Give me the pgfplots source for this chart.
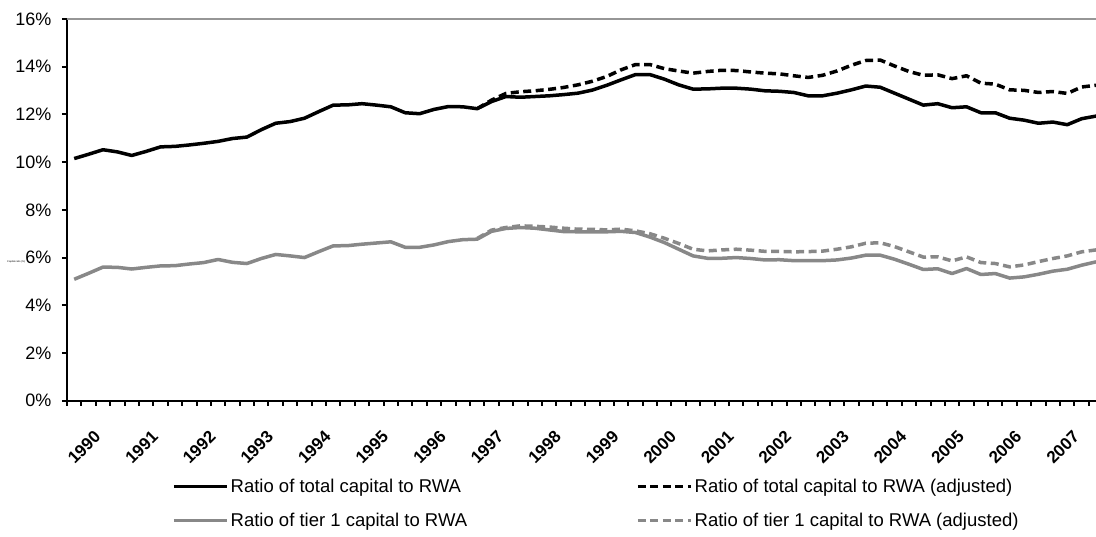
\documentclass[border=0pt]{standalone}
\usepackage{fontspec}
\setmainfont{Liberation Sans}
\usepackage{pgfplots}
\usepackage{pgfplotstable}
\pgfplotsset{compat=1.18}
\definecolor{serieGrey}{RGB}{136,136,136}
\definecolor{topGrey}{RGB}{150,150,150}

\pgfplotstableread{
i v
0 10.15
1 10.33
2 10.52
3 10.43
4 10.28
5 10.45
6 10.64
7 10.66
8 10.72
9 10.79
10 10.87
11 10.99
12 11.05
13 11.36
14 11.63
15 11.70
16 11.84
17 12.12
18 12.39
19 12.40
20 12.45
21 12.39
22 12.32
23 12.07
24 12.03
25 12.21
26 12.33
27 12.32
28 12.24
29 12.54
30 12.75
31 12.72
32 12.75
33 12.78
34 12.83
35 12.89
36 13.02
37 13.22
38 13.45
39 13.67
40 13.67
41 13.48
42 13.24
43 13.06
44 13.07
45 13.10
46 13.10
47 13.06
48 12.99
49 12.97
50 12.92
51 12.78
52 12.78
53 12.89
54 13.03
55 13.19
56 13.14
57 12.89
58 12.64
59 12.39
60 12.45
61 12.28
62 12.32
63 12.07
64 12.07
65 11.84
66 11.76
67 11.63
68 11.68
69 11.57
70 11.82
71 11.93
}\totalcap

\pgfplotstableread{
i v
28 12.24
29 12.60
30 12.88
31 12.95
32 12.99
33 13.05
34 13.13
35 13.24
36 13.39
37 13.59
38 13.87
39 14.09
40 14.09
41 13.92
42 13.82
43 13.73
44 13.80
45 13.85
46 13.84
47 13.78
48 13.73
49 13.70
50 13.62
51 13.55
52 13.64
53 13.82
54 14.06
55 14.26
56 14.28
57 14.03
58 13.80
59 13.64
60 13.66
61 13.50
62 13.62
63 13.31
64 13.27
65 13.03
66 13.01
67 12.92
68 12.96
69 12.88
70 13.15
71 13.22
}\totaladj

\pgfplotstableread{
i v
0 5.09
1 5.34
2 5.60
3 5.59
4 5.52
5 5.59
6 5.65
7 5.66
8 5.73
9 5.79
10 5.92
11 5.80
12 5.75
13 5.96
14 6.13
15 6.07
16 6.00
17 6.25
18 6.49
19 6.50
20 6.56
21 6.61
22 6.66
23 6.43
24 6.43
25 6.53
26 6.67
27 6.75
28 6.77
29 7.10
30 7.22
31 7.26
32 7.23
33 7.16
34 7.09
35 7.08
36 7.08
37 7.08
38 7.10
39 7.05
40 6.86
41 6.63
42 6.35
43 6.07
44 5.97
45 5.97
46 6.00
47 5.96
48 5.90
49 5.91
50 5.87
51 5.87
52 5.87
53 5.90
54 5.98
55 6.10
56 6.10
57 5.93
58 5.72
59 5.50
60 5.53
61 5.33
62 5.54
63 5.29
64 5.33
65 5.14
66 5.19
67 5.30
68 5.43
69 5.51
70 5.68
71 5.82
}\tierone

\pgfplotstableread{
i v
28 6.80
29 7.15
30 7.26
31 7.33
32 7.31
33 7.28
34 7.23
35 7.19
36 7.18
37 7.16
38 7.19
39 7.12
40 7.00
41 6.81
42 6.59
43 6.35
44 6.28
45 6.32
46 6.35
47 6.31
48 6.26
49 6.26
50 6.24
51 6.25
52 6.27
53 6.35
54 6.45
55 6.60
56 6.62
57 6.46
58 6.24
59 6.02
60 6.03
61 5.86
62 6.03
63 5.79
64 5.75
65 5.61
66 5.69
67 5.83
68 5.96
69 6.07
70 6.24
71 6.32
}\tieroneadj

\begin{document}
\begin{tikzpicture}[x=1pt,y=1pt]
\path[use as bounding box] (0,0) rectangle (1096,536);
\node[font=\fontsize{2.5}{3}\selectfont, anchor=west, inner sep=0pt] at (7,274) {Capital ratio (\%)};
\begin{axis}[
  at={(67pt,135.3pt)}, anchor=south west,
  scale only axis, width=1029pt, height=381.7pt,
  xmin=-0.5, xmax=71, ymin=0, ymax=16,
  axis x line*=bottom, axis y line*=left,
  axis line style={line width=2pt, black, -},
  ytick={0,2,...,16},
  yticklabel={\pgfmathprintnumber{\tick}\%},
  yticklabel style={font=\fontsize{18}{21}\selectfont, xshift=-7pt},
  /pgf/number format/assume math mode=true,
  tick align=outside,
  major tick length=5pt,
  tick style={line width=2pt, black},
  xtick={-0.5,0.5,...,70.6},
  xticklabels={},
  extra x ticks={0,4,...,68},
  extra x tick labels={1990,1991,1992,1993,1994,1995,1996,1997,1998,1999,2000,2001,2002,2003,2004,2005,2006,2007},
  extra x tick style={major tick length=0pt, tick label style={font=\bfseries\fontsize{17}{20}\selectfont, xshift=19pt, yshift=-24pt, rotate=45, anchor=north east}},
  legend columns=2,
  legend cell align=left,
  legend image code/.code={\draw[#1] (0pt,0pt) -- (53pt,0pt);},
  legend style={at={(axis description cs:0.102,-0.2)}, anchor=north west, draw=none, fill=none,
    inner sep=0pt, row sep=15pt, font=\fontsize{18.5}{21}\selectfont,
    /tikz/every even column/.append style={column sep=167pt}},
]
\draw[topGrey, line width=2pt] (rel axis cs:0,1) -- (rel axis cs:1,1);
\addplot[black, line width=3.5pt, line join=round] table[x=i,y=v] {\totalcap};
\addlegendentry{Ratio of total capital to RWA}
\addplot[black, line width=3.5pt, dash pattern=on 8pt off 4.5pt, line join=round] table[x=i,y=v] {\totaladj};
\addlegendentry{Ratio of total capital to RWA (adjusted)}
\addplot[serieGrey, line width=3.5pt, line join=round] table[x=i,y=v] {\tierone};
\addlegendentry{Ratio of tier 1 capital to RWA}
\addplot[serieGrey, line width=3.5pt, dash pattern=on 8pt off 4.5pt, line join=round] table[x=i,y=v] {\tieroneadj};
\addlegendentry{Ratio of tier 1 capital to RWA (adjusted)}
\end{axis}
\end{tikzpicture}
\end{document}
